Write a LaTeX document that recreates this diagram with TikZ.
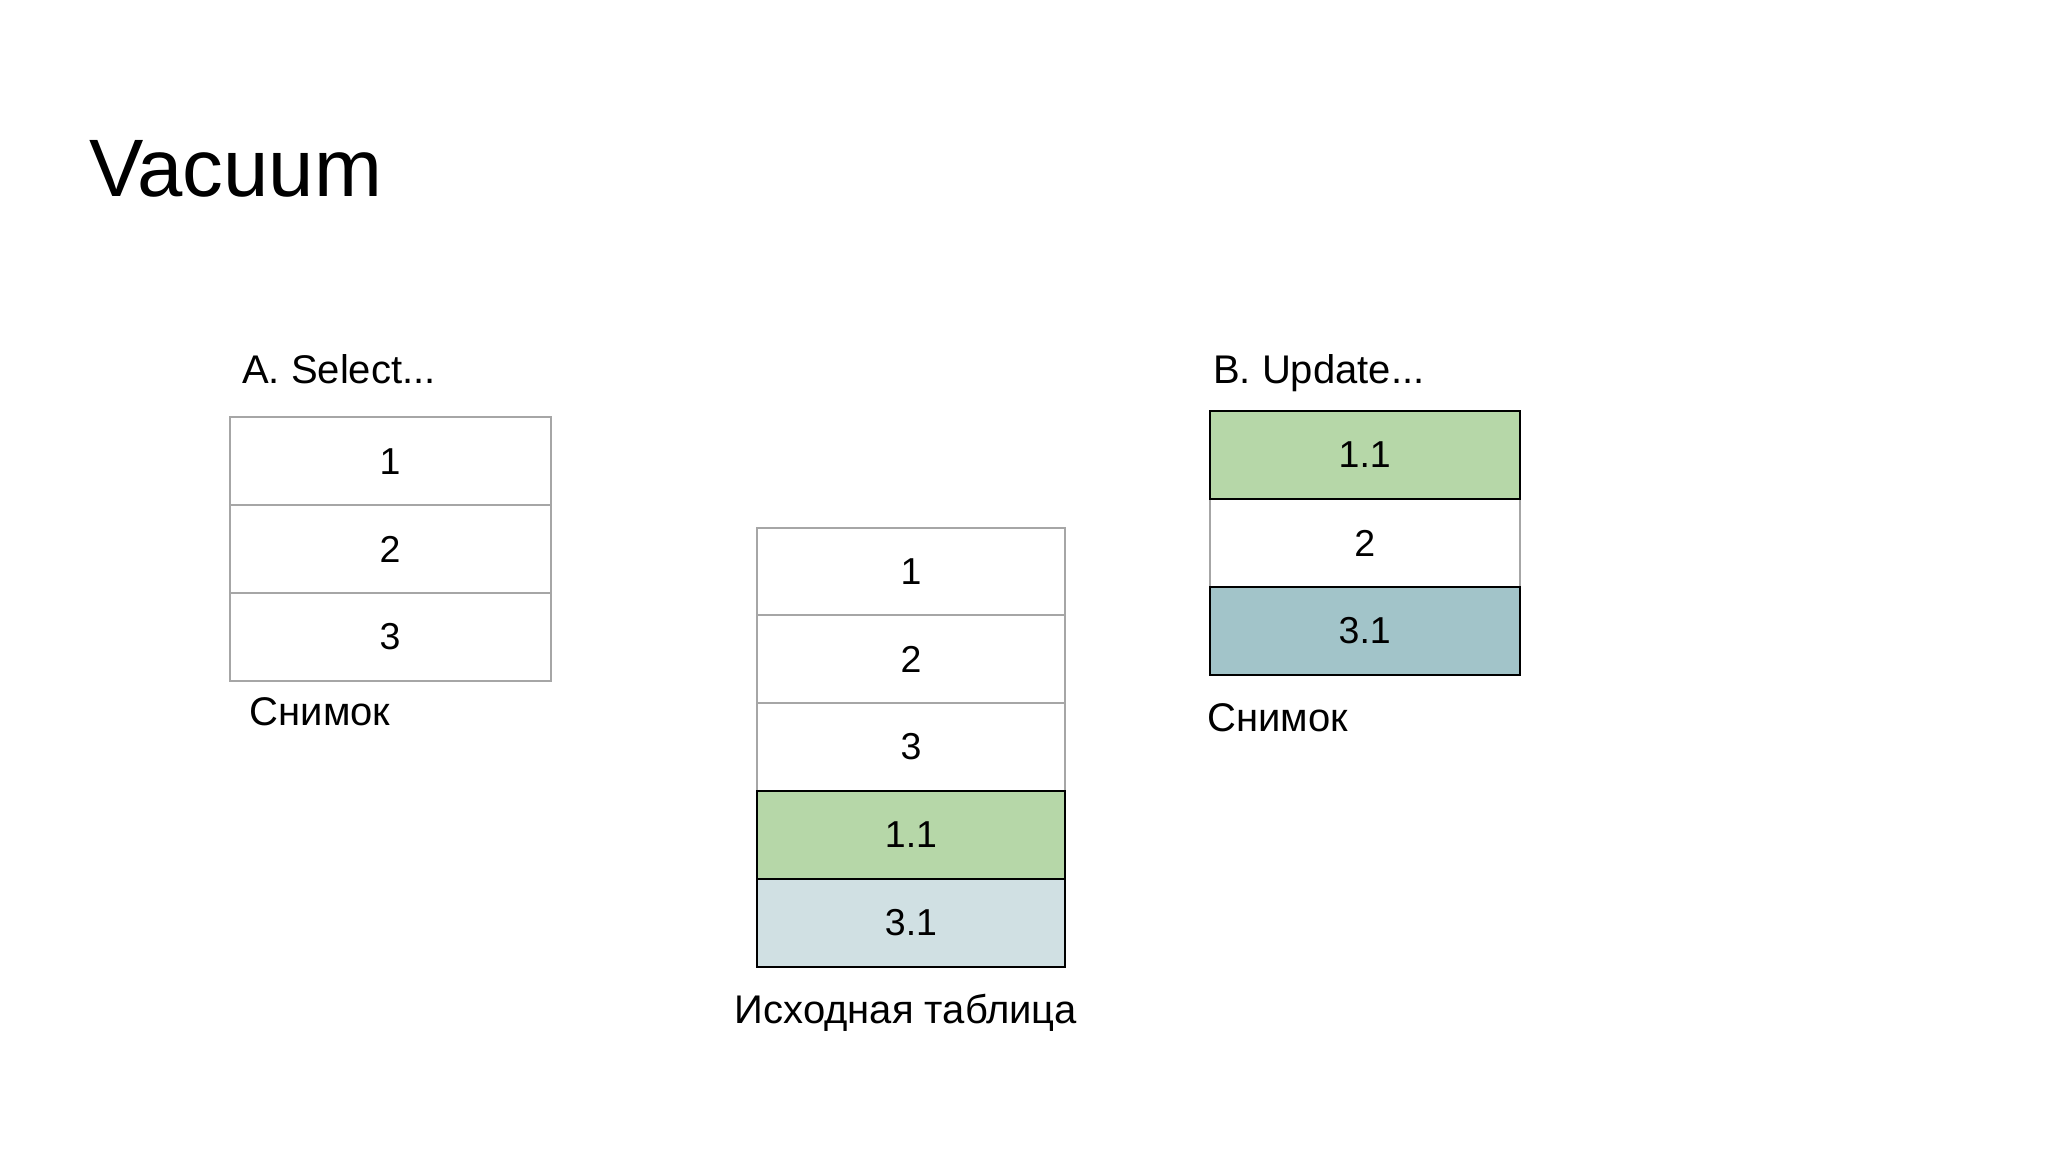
\documentclass[tikz,border=0pt]{standalone}
\usepackage{fontspec}
\setmainfont{Liberation Sans}
\definecolor{cellgrey}{HTML}{A6A6A6}
\definecolor{rowgreen}{HTML}{B6D7A8}
\definecolor{rowcyanlight}{HTML}{D0E0E3}
\definecolor{rowcyan}{HTML}{A2C4C9}
\begin{document}
\begin{tikzpicture}[x=1pt,y=-1pt,
  cell/.style={draw=cellgrey, line width=2pt, fill=white, inner sep=0pt, outer sep=0pt,
    font=\fontsize{37.5}{45}\selectfont, anchor=center},
  newrow/.style={cell, draw=black},
  lbl/.style={inner sep=0pt, font=\fontsize{40}{48}\selectfont, anchor=base west},
  tblA/.style={minimum width=321pt, minimum height=87.7pt},
  tblM/.style={minimum width=308pt, minimum height=87.8pt},
  tblB/.style={minimum width=310.5pt, minimum height=87.8pt}
]
\useasboundingbox[fill=white] (0,0) rectangle (2048,1152);

% title
\node[inner sep=0pt, anchor=base west, font=\fontsize{81.5}{98}\selectfont] (title) at (89,196) {Vacuum};

% Table A (snapshot for Select)
\node[lbl] (labA) at (242,383) {A. Select...};
\node[cell,tblA] (a1) at (390,461.2) {1};
\node[cell,tblA] (a2) at (390,549) {2};
\node[cell,tblA] (a3) at (390,636.8) {3};
\node[lbl] (snapA) at (249.5,725) {Снимок};

% Middle table
\node[cell,tblM] (m1) at (911,571.4) {1};
\node[cell,tblM] (m2) at (911,659.2) {2};
\node[cell,tblM] (m3) at (911,747) {3};
\node[newrow,tblM,fill=rowgreen] (m4) at (911,834.8) {1.1};
\node[newrow,tblM,fill=rowcyanlight] (m5) at (911,922.6) {3.1};
\node[inner sep=0pt, anchor=base, font=\fontsize{40}{48}\selectfont] (src) at (906,1023) {Исходная таблица};

% Table B (snapshot for Update)
\node[lbl] (labB) at (1213,383.3) {B. Update...};
\node[cell,tblB] (b2) at (1364.75,543) {2};
\node[newrow,tblB,fill=rowgreen] (b1) at (1364.75,455) {1.1};
\node[newrow,tblB,fill=rowcyan] (b3) at (1364.75,630.7) {3.1};
\node[lbl] (snapB) at (1207,731.7) {Снимок};
\end{tikzpicture}
\end{document}
